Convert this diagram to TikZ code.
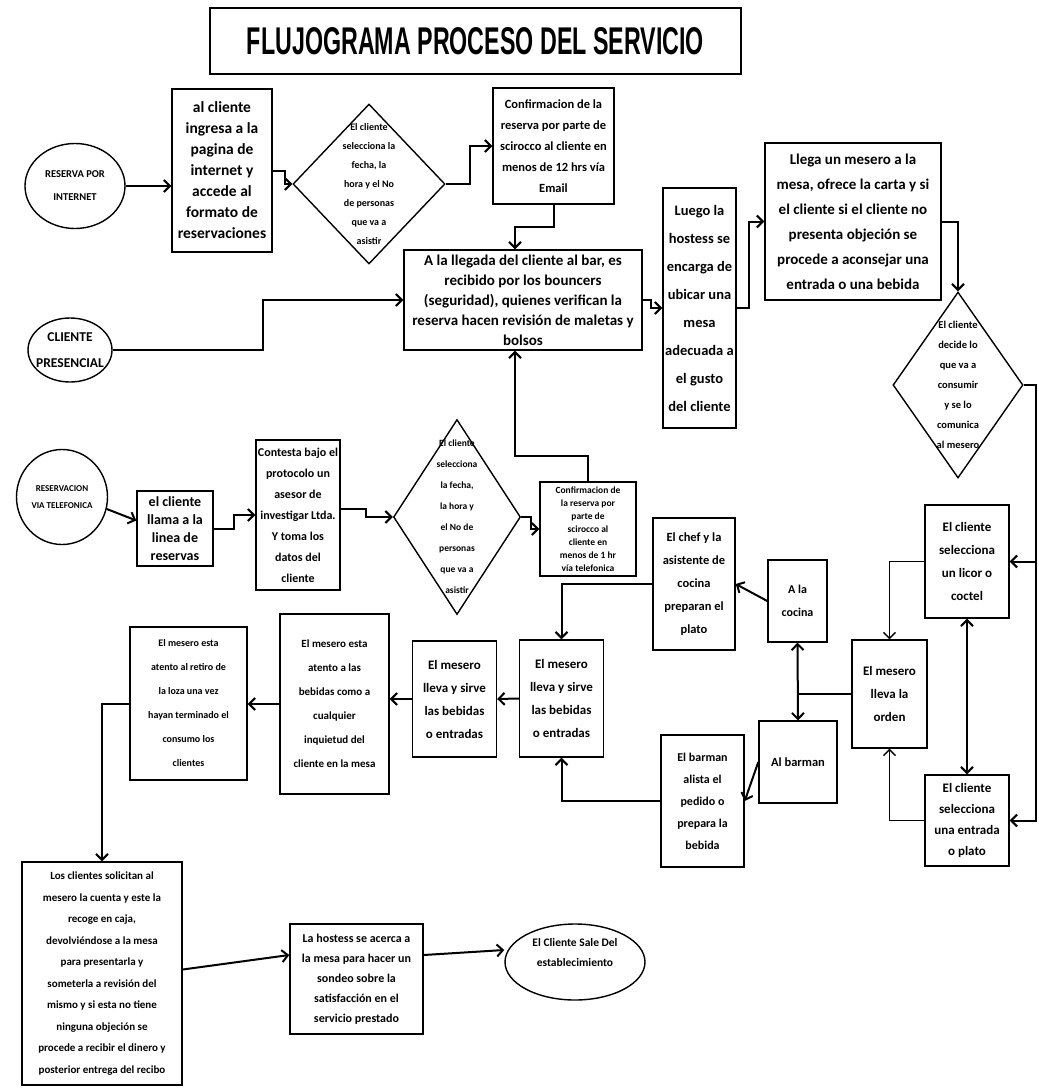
\documentclass[tikz,border=0pt]{standalone}
\usepackage{fontspec}
\setmainfont{Carlito}
\newfontfamily\titulofont{Liberation Sans}
\usepackage{graphicx}
\usetikzlibrary{arrows.meta, shapes.geometric, calc}
\tikzset{>={Straight Barb[length=6pt,width=12pt]}}
\tikzset{caja/.style={draw, line width=1.4pt, align=center, inner sep=1pt}}
\tikzset{decision/.style={diamond, draw, line width=1.4pt, inner sep=0pt}}
\tikzset{inicio/.style={ellipse, draw, line width=1.4pt, inner sep=0pt}}
\tikzset{texto/.style={align=center, inner sep=0pt}}
\tikzset{flecha/.style={->, line width=2pt}}
\newcommand\tam[2]{\bfseries\fontsize{#1}{#2}\selectfont}

\begin{document}
\begin{tikzpicture}[x=1pt, y=-1pt]
      \useasboundingbox (0,0) rectangle (1039,1088);
      \node[caja, minimum width=531pt, minimum height=66pt] (titulo) at (475.5,41)
      {\resizebox{457pt}{27pt}{\titulofont\bfseries FLUJOGRAMA PROCESO DEL SERVICIO}};
      % reserva por internet
      \node[inicio, minimum width=100pt, minimum height=85pt] (resint) at (75,186) {};
      \node[texto, font=\tam{10.5}{23}] (resintt) at (resint) {RESERVA POR\\INTERNET};
      \node[caja, minimum width=100pt, minimum height=163pt, font=\tam{15.5}{21}] (ingresa) at (222,170.5)
      {al cliente\\ingresa a la\\pagina de\\internet y\\accede al\\formato de\\reservaciones};
      \node[decision, minimum width=152pt, minimum height=160pt] (selint) at (369,184) {};
      \node[texto, font=\tam{10}{19}] (selintt) at (selint)
      {El cliente\\selecciona la\\fecha, la\\hora y el No\\de personas\\que va a\\asistir};
      \node[caja, minimum width=121pt, minimum height=116pt, font=\tam{12.5}{21}] (confmail) at (553.5,146)
      {Confirmacion de la\\reserva por parte de\\scirocco al cliente en\\menos de 12 hrs vía\\Email};
      \node[caja, minimum width=238pt, minimum height=100pt, font=\tam{15}{20}] (llegada) at (523,300)
      {A la llegada del cliente al bar, es\\recibido por los bouncers\\(seguridad), quienes verifican la\\reserva hacen revisión de maletas y\\bolsos};
      % cliente presencial
      \node[inicio, minimum width=84pt, minimum height=64pt] (presen) at (70,350) {};
      \node[texto, font=\tam{13.5}{26}] (present) at (presen) {CLIENTE\\PRESENCIAL};
      \node[caja, minimum width=73pt, minimum height=240pt, font=\tam{14.5}{28}] (hostess) at (699.5,308)
      {Luego la\\hostess se\\encarga de\\ubicar una\\mesa\\adecuada a\\el gusto\\del cliente};
      \node[caja, minimum width=176pt, minimum height=157pt, font=\tam{15}{25}] (mesero) at (853,221.5)
      {Llega un mesero a la\\mesa, ofrece la carta y si\\el cliente si el cliente no\\presenta objeción se\\procede a aconsejar una\\entrada o una bebida};
      \node[decision, minimum width=130pt, minimum height=186pt] (decide) at (958,385) {};
      \node[texto, font=\tam{10.5}{20}] (decidet) at (decide)
      {El cliente\\decide lo\\que va a\\consumir\\y se lo\\comunica\\al mesero};
      % reservacion telefonica
      \node[inicio, minimum width=91pt, minimum height=95pt] (restel) at (62,497) {};
      \node[texto, font=\tam{9}{17}] (restelt) at (restel) {RESERVACION\\VIA TELEFONICA};
      \node[caja, minimum width=76pt, minimum height=75pt, font=\tam{14}{18}] (llama) at (175,528.5)
      {el cliente\\llama a la\\linea de\\reservas};
      \node[caja, minimum width=84pt, minimum height=150pt, font=\tam{12}{21}] (contesta) at (298,515)
      {Contesta bajo el\\protocolo un\\asesor de\\investigar Ltda.\\Y toma los\\datos del\\cliente};
      \node[decision, minimum width=127pt, minimum height=195pt] (seltel) at (457,517) {};
      \node[texto, font=\tam{9.5}{21}] (seltelt) at (seltel)
      {El cliente\\selecciona\\la fecha,\\la hora y\\el No de\\personas\\que va a\\asistir};
      \node[caja, minimum width=96pt, minimum height=94pt, font=\tam{9.5}{13}] (conftel) at (588,529)
      {Confirmacion de\\la reserva por\\parte de\\scirocco al\\cliente en\\menos de 1 hr\\vía telefonica};
      % pedido
      \node[caja, minimum width=84pt, minimum height=113pt, font=\tam{13}{23}] (licor) at (967,561.5)
      {El cliente\\selecciona\\un licor o\\coctel};
      \node[caja, minimum width=84pt, minimum height=91pt, font=\tam{13}{21}] (plato) at (967,820.5)
      {El cliente\\selecciona\\una entrada\\o plato};
      \node[caja, minimum width=75pt, minimum height=108pt, font=\tam{13}{23}] (orden) at (889.5,694)
      {El mesero\\lleva la\\orden};
      \node[caja, minimum width=59pt, minimum height=82pt, font=\tam{12}{23}] (cocina) at (797.5,601)
      {A la\\cocina};
      \node[caja, minimum width=78pt, minimum height=82pt, font=\tam{12.5}{23}] (albarman) at (798,762)
      {Al barman};
      \node[caja, minimum width=82pt, minimum height=132pt, font=\tam{12.5}{23}] (chef) at (694,584)
      {El chef y la\\asistente de\\cocina\\preparan el\\plato};
      \node[caja, minimum width=83pt, minimum height=132pt, font=\tam{12}{22}] (barman) at (702.5,801)
      {El barman\\alista el\\pedido o\\prepara la\\bebida};
      \node[caja, minimum width=84pt, minimum height=117pt, font=\tam{13}{23}] (sirvea) at (561.5,698.5)
      {El mesero\\lleva y sirve\\las bebidas\\o entradas};
      \node[caja, minimum width=84pt, minimum height=116pt, font=\tam{13}{23}] (sirveb) at (454.5,699)
      {El mesero\\lleva y sirve\\las bebidas\\o entradas};
      \node[caja, minimum width=109pt, minimum height=180pt, font=\tam{11}{24}] (atento) at (334.5,704)
      {El mesero esta\\atento a las\\bebidas como a\\cualquier\\inquietud del\\cliente en la mesa};
      \node[caja, minimum width=117pt, minimum height=153pt, font=\tam{10}{24}] (retiro) at (188.5,703.5)
      {El mesero esta\\atento al retiro de\\la loza una vez\\hayan terminado el\\consumo los\\clientes};
      % salida
      \node[caja, minimum width=160pt, minimum height=223pt, font=\tam{11}{21.5}] (cuenta) at (102,973.5)
      {Los clientes solicitan al\\mesero la cuenta y este la\\recoge en caja,\\devolviéndose a la mesa\\para presentarla y\\someterla a revisión del\\mismo y si esta no tiene\\ninguna objeción se\\procede a recibir el dinero y\\posterior entrega del recibo};
      \node[caja, minimum width=133pt, minimum height=110pt, font=\tam{12}{20}] (sondeo) at (356.5,979)
      {La hostess se acerca a\\la mesa para hacer un\\sondeo sobre la\\satisfacción en el\\servicio prestado};
      \node[inicio, minimum width=140pt, minimum height=76pt] (sale) at (575,962) {};
      \node[texto, font=\tam{11.5}{20}] (salet) at (575,952) {El Cliente Sale Del\\establecimiento};

      \draw[flecha] (resint.east) -- (resint.east -| ingresa.west);
      \draw[flecha] (ingresa.east) -- ++(12,0) |- (selint.west);
      \draw[flecha] (selint.east) -- ++(24,0) |- (confmail.west);
      \draw[flecha] (confmail.south) -- ++(0,22) -| ([xshift=-8pt]llegada.north);
      \draw[flecha] (presen.east) -- ++(150,0) |- (llegada.west);
      \draw[flecha] (llegada.east) -- ++(8,0) |- (hostess.west);
      \draw[flecha] (hostess.east) -- ++(12,0) |- (mesero.west);
      \draw[flecha] (mesero.east) -| (decide.north);
      \draw[flecha] (decide.east) -- ++(12,0) |- (licor.east);
      \draw[flecha] (decide.east) -- ++(12,0) |- (plato.east);
      \draw[flecha, <->] (licor.south) -- (plato.north);
      \draw[flecha, line width=1.4pt] (licor.west) -| (orden.north);
      \draw[flecha, line width=1.4pt] (plato.west) -| (orden.south);
      \draw[line width=1.4pt] (orden.west) -- (orden.west -| cocina.south);
      \draw[flecha, <->] (cocina.south) -- (albarman.north);
      \draw[flecha] (cocina.west) -- (chef.east);
      \draw[flecha] (albarman.west) -- (barman.east);
      \draw[flecha] (chef.west) -| (sirvea.north);
      \draw[flecha] (barman.west) -| (sirvea.south);
      \draw[flecha] (sirvea.west) -- (sirveb.east);
      \draw[flecha] (sirveb.west) -- (sirveb.west -| atento.east);
      \draw[flecha] (atento.west) -- (atento.west -| retiro.east);
      \draw[flecha] (retiro.west) -| (cuenta.north);
      \draw[flecha] ([yshift=4pt]cuenta.east) -- ([yshift=24pt]sondeo.west);
      \draw[flecha] ([yshift=24pt]sondeo.east) -- ([yshift=12pt]sale.west);
      % telefono
      \draw[flecha] (restel.-15) -- ([yshift=8pt]llama.west);
      \draw[flecha] (llama.east) -- ++(20,0) |- (contesta.west);
      \draw[flecha] ([yshift=6pt]contesta.east) -- ++(25,0) |- (seltel.west);
      \draw[flecha] (seltel.east) -- ++(10,0) |- (conftel.west);
      \draw[flecha] (conftel.north) -- ++(0,-25) -| ([xshift=-8pt]llegada.south);
\end{tikzpicture}
\end{document}
